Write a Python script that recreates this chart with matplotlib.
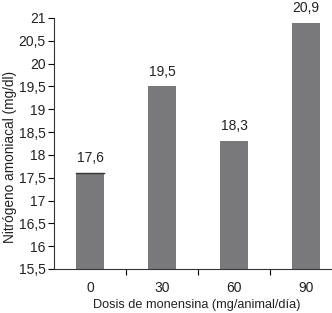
import matplotlib
matplotlib.use("Agg")
import matplotlib.pyplot as plt
import numpy as np

plt.rcParams['font.family'] = ['Liberation Sans', 'DejaVu Sans']

dosis = ["0", "30", "60", "90"]
nitrogeno = [17.6, 19.5, 18.3, 20.9]
etiquetas = ["17,6", "19,5", "18,3", "20,9"]
yticks = [15.5, 16, 16.5, 17, 17.5, 18, 18.5, 19, 19.5, 20, 20.5, 21]

W, H = 332, 313
fig = plt.figure(figsize=(W / 100, H / 100), dpi=100)
ax = fig.add_axes([54 / W, 44 / H, 288 / W, 251 / H])

x = np.arange(len(dosis))
ax.bar(x, [v - 15.5 for v in nitrogeno], bottom=15.5, width=0.4,
       color="#79797b", edgecolor="none")
# thin dark top on first bar
ax.plot([x[0] - 0.2, x[0] + 0.2], [nitrogeno[0], nitrogeno[0]], color="#333333", lw=1)

for xi, v, t in zip(x, nitrogeno, etiquetas):
    ax.text(xi, v + 0.24, t, ha="center", va="baseline", fontsize=10, color="#222222")

ax.set_xlim(-0.5, 3.5)
ax.set_ylim(15.5, 21)
ax.set_yticks(yticks)
ax.set_yticklabels([f"{v:g}".replace(".", ",") for v in yticks])
ax.set_xticks(x)
ax.set_xticklabels(dosis)
ax.set_xticks(x[:-1] + 0.5, minor=True)
ax.tick_params(axis="x", which="major", length=0, pad=9)
ax.tick_params(axis="x", which="minor", length=4, direction="out", width=0.8)
ax.tick_params(axis="y", length=4, width=0.8, pad=2)
ax.tick_params(labelsize=10, labelcolor="#222222")

for s in ["top", "right"]:
    ax.spines[s].set_visible(False)
for s in ["left", "bottom"]:
    ax.spines[s].set_linewidth(0.8)
    ax.spines[s].set_color("#333333")

ax.set_xlabel("Dosis de monensina (mg/animal/día)", fontsize=9.2, color="#222222")
ax.set_ylabel("Nitrógeno amoniacal (mg/dl)", fontsize=9.8, color="#222222")
ax.xaxis.set_label_coords(0.495, -0.12)
ax.yaxis.set_label_coords(-0.128, 0.446)

fig.savefig("out.png", dpi=100)
